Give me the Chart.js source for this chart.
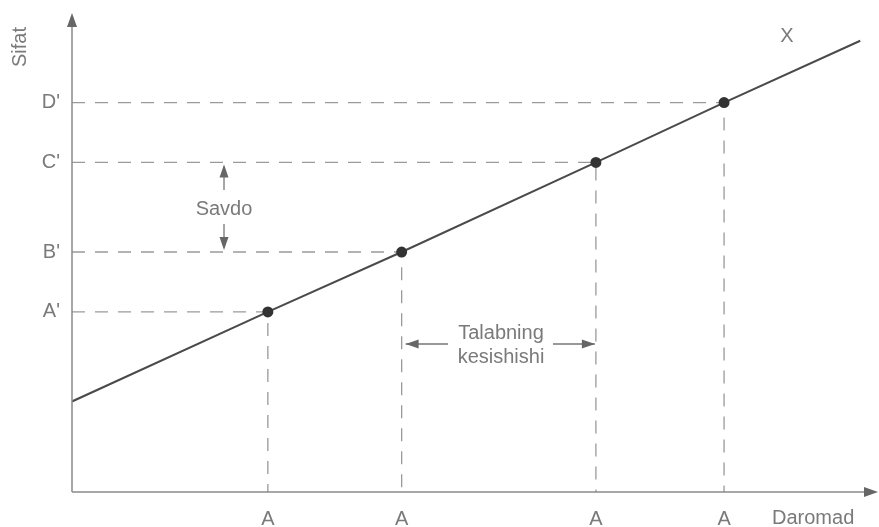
<!DOCTYPE html>
<html>
<head>
<meta charset="utf-8">
<script src="https://cdn.jsdelivr.net/npm/chart.js@4/dist/chart.umd.min.js"></script>
<style>
	html, body { margin: 0; padding: 0; background: #fff; }
	#wrap { width: 879px; height: 527px; }
</style>
</head>
<body>
<div id="wrap"><canvas id="c"></canvas></div>
<script>
// values (abstract units, 0..100 on both axes)
const pointX = [24.3, 40.9, 65.0, 80.9];
const pointY = [37.6, 50.1, 68.8, 81.3];
const yLabels = ["A'", "B'", "C'", "D'"];
const xLabels = ["A", "A", "A", "A"];
const lineStart = { x: 0, y: 18.9 };
const lineEnd = { x: 97.8, y: 94.2 };

const FONT = "'Liberation Sans', Arial, sans-serif";
const TEXT = '#7a7a7a';
const AXIS = '#8a8a8a';
const FSIZE = 20;

// main line with the four points
const mainData = [lineStart].concat(pointX.map((x, i) => ({ x: x, y: pointY[i] }))).concat([lineEnd]);

const datasets = [{
	data: mainData,
	borderColor: '#4a4a4a',
	borderWidth: 2,
	pointRadius: mainData.map((p, i) => (i === 0 || i === mainData.length - 1) ? 0 : 4.5),
	pointBackgroundColor: '#333',
	pointBorderColor: '#333',
	order: 0
}];

// dashed guides from each point to both axes
pointX.forEach((x, i) => {
	datasets.push({
		data: [{ x: 0, y: pointY[i] }, { x: x, y: pointY[i] }, { x: x, y: 0 }],
		borderColor: '#9a9a9a',
		borderWidth: 1.3,
		borderDash: [13, 10],
		pointRadius: 0,
		order: 1
	});
});

function arrowHead(ctx, x, y, dir, len, half) {
	// dir: angle in radians the tip points to
	ctx.save();
	ctx.translate(x, y);
	ctx.rotate(dir);
	ctx.beginPath();
	ctx.moveTo(0, 0);
	ctx.lineTo(-len, -half);
	ctx.lineTo(-len, half);
	ctx.closePath();
	ctx.fill();
	ctx.restore();
}

const extras = {
	id: 'extras',
	afterDraw(chart) {
		const ctx = chart.ctx;
		const xs = chart.scales.x, ys = chart.scales.y;
		const left = chart.chartArea.left, bottom = chart.chartArea.bottom;
		const px = v => xs.getPixelForValue(v);
		const py = v => ys.getPixelForValue(v);

		ctx.save();
		// axes with arrows
		ctx.strokeStyle = AXIS;
		ctx.fillStyle = '#666';
		ctx.lineWidth = 1.5;
		ctx.beginPath();
		ctx.moveTo(left, bottom);
		ctx.lineTo(left, py(100) + 8);
		ctx.moveTo(left, bottom);
		ctx.lineTo(px(100) - 8, bottom);
		ctx.stroke();
		arrowHead(ctx, left, py(100), -Math.PI / 2, 14, 5);
		arrowHead(ctx, px(100), bottom, 0, 14, 5);

		ctx.fillStyle = TEXT;
		ctx.font = FSIZE + 'px ' + FONT;

		// axis titles
		ctx.textAlign = 'left';
		ctx.textBaseline = 'middle';
		ctx.fillText('Daromad', 772, 518);
		ctx.save();
		ctx.translate(20, 47);
		ctx.rotate(-Math.PI / 2);
		ctx.textAlign = 'center';
		ctx.fillText('Sifat', 0, 0);
		ctx.restore();

		// X label on the line
		ctx.textAlign = 'center';
		ctx.fillText('X', px(88.7), py(95.0));

		// Savdo vertical double arrow
		ctx.strokeStyle = '#777';
		ctx.fillStyle = '#666';
		ctx.lineWidth = 1.3;
		const sx = px(18.86);
		ctx.beginPath();
		ctx.moveTo(sx, py(pointY[2]) + 4);
		ctx.lineTo(sx, 190);
		ctx.moveTo(sx, 224);
		ctx.lineTo(sx, py(pointY[1]) - 4);
		ctx.stroke();
		arrowHead(ctx, sx, py(pointY[2]) + 2, -Math.PI / 2, 13, 4.5);
		arrowHead(ctx, sx, py(pointY[1]) - 2, Math.PI / 2, 13, 4.5);
		ctx.fillStyle = TEXT;
		ctx.fillText('Savdo', sx, 209);

		// Talabning kesishishi horizontal double arrow
		const ay = 344;
		const x1 = px(pointX[1]) + 4, x2 = px(pointX[2]) - 1;
		ctx.beginPath();
		ctx.moveTo(x1, ay);
		ctx.lineTo(448, ay);
		ctx.moveTo(553, ay);
		ctx.lineTo(x2, ay);
		ctx.stroke();
		ctx.fillStyle = '#666';
		arrowHead(ctx, x1, ay, Math.PI, 13, 4.5);
		arrowHead(ctx, x2, ay, 0, 13, 4.5);
		ctx.fillStyle = TEXT;
		ctx.fillText('Talabning', 501, 333);
		ctx.fillText('kesishishi', 501, 357);
		ctx.restore();
	}
};

new Chart(document.getElementById('c'), {
	type: 'line',
	data: { datasets: datasets },
	options: {
		responsive: true,
		maintainAspectRatio: false,
		animation: false,
		layout: { padding: { top: 13, right: 1, left: 0, bottom: 0 } },
		plugins: { legend: { display: false }, tooltip: { enabled: false } },
		elements: { line: { tension: 0 } },
		scales: {
			x: {
				type: 'linear',
				min: 0,
				max: 100,
				grid: { display: false, drawTicks: false },
				border: { display: false },
				afterBuildTicks: s => { s.ticks = pointX.map(v => ({ value: v })); },
				afterFit: s => { s.height = 35; s.paddingLeft = 0; s.paddingRight = 0; },
				ticks: {
					autoSkip: false,
					maxRotation: 0,
					padding: 15,
					color: TEXT,
					font: { family: FONT, size: FSIZE },
					callback: (v, i) => xLabels[i]
				}
			},
			y: {
				type: 'linear',
				min: 0,
				max: 100,
				grid: { display: false, drawTicks: false },
				border: { display: false },
				afterBuildTicks: s => { s.ticks = pointY.map(v => ({ value: v })); },
				afterFit: s => { s.width = 72; s.paddingTop = 0; s.paddingBottom = 0; },
				ticks: {
					autoSkip: false,
					padding: 12,
					color: TEXT,
					font: { family: FONT, size: FSIZE },
					callback: (v, i) => yLabels[i]
				}
			}
		}
	},
	plugins: [extras]
});
</script>
</body>
</html>
